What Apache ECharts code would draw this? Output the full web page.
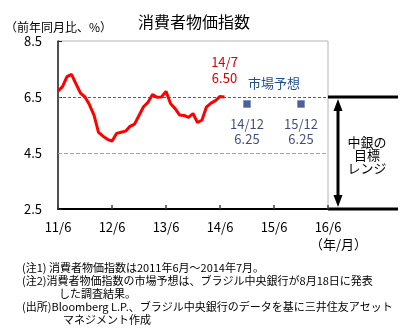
<!DOCTYPE html>
<html><head><meta charset="utf-8">
<script src="https://cdn.jsdelivr.net/npm/echarts@6/dist/echarts.min.js"></script>
<style>html,body{margin:0;padding:0;background:#fff}#c{width:409px;height:332px}</style>
</head><body><div id="c"></div>
<script>
// ---- data ----
const xTickLabels = ['11/6','12/6','13/6','14/6','15/6','16/6'];
const yTickValues = [2.5, 4.5, 6.5, 8.5];
const cpiStartLabel = '11/6';
const cpiLastLabel = '14/7';
const cpiValues = [6.71, 6.87, 7.23, 7.31, 6.97, 6.64, 6.50,
  6.22, 5.85, 5.24, 5.10, 4.99, 4.92, 5.20, 5.24, 5.28, 5.45, 5.53, 5.84,
  6.15, 6.31, 6.59, 6.49, 6.50, 6.70, 6.27, 6.09, 5.86, 5.84, 5.77, 5.91,
  5.59, 5.68, 6.15, 6.28, 6.37, 6.52, 6.50];
const forecastLabels = ['14/12', '15/12'];
const forecastValues = [6.25, 6.25];
const targetRange = [2.5, 6.5];
const gridLineValues = [6.5, 4.5];

const FONT = '"Noto Sans CJK JP", sans-serif';
function monthIndex(label) {
  const p = label.split('/').map(Number);
  const s = cpiStartLabel.split('/').map(Number);
  return (p[0] - s[0]) * 12 + (p[1] - s[1]);
}
const xMin = monthIndex(xTickLabels[0]);
const xMax = monthIndex(xTickLabels[xTickLabels.length - 1]);

const cpiData = cpiValues.map((v, i) => [i, v]);
const lastIdx = cpiValues.length - 1;
const lastVal = cpiValues[lastIdx];
const forecastData = forecastValues.map((v, i) => ({
  value: [monthIndex(forecastLabels[i]), v],
  label: { formatter: forecastLabels[i] + '\n' + v.toFixed(2) }
}));

const chart = echarts.init(document.getElementById('c'), null, { renderer: 'canvas' });
chart.setOption({
  animation: false,
  backgroundColor: '#fff',
  title: {
    text: '消費者物価指数', left: 133, top: 9,
    textStyle: { fontSize: 16, fontWeight: 'normal', color: '#000', fontFamily: FONT }
  },
  grid: { left: 58, top: 41, right: 81, bottom: 123, show: true, borderColor: '#b4b4b4', borderWidth: 1 },
  xAxis: {
    type: 'value', min: xMin, max: xMax, interval: 12,
    axisLine: { lineStyle: { color: '#000', width: 2 } },
    axisTick: { inside: true, length: 4, lineStyle: { color: '#444', width: 1.5 } },
    axisLabel: {
      formatter: v => xTickLabels[(v - xMin) / 12] || '',
      color: '#000', fontSize: 13, margin: 12, fontFamily: FONT
    },
    splitLine: { show: false }
  },
  yAxis: {
    type: 'value', min: yTickValues[0], max: yTickValues[yTickValues.length - 1],
    axisLine: { show: true, lineStyle: { color: '#222', width: 1.5 } },
    axisTick: { show: true, inside: true, length: 4, customValues: yTickValues, lineStyle: { color: '#222' } },
    axisLabel: {
      customValues: yTickValues, formatter: v => v.toFixed(1),
      color: '#000', fontSize: 13, margin: 16, fontFamily: FONT
    },
    splitLine: { show: false }
  },
  series: [
    {
      type: 'line', data: cpiData, showSymbol: false, symbol: 'none',
      lineStyle: { color: '#ff0000', width: 3 }, z: 5,
      markLine: {
        silent: true, symbol: 'none', label: { show: false },
        data: [
          { yAxis: gridLineValues[0], lineStyle: { color: '#55626a', type: [3, 2], width: 1 } },
          { yAxis: gridLineValues[1], lineStyle: { color: '#a79cc2', type: [4, 2], width: 1 } }
        ]
      },
      markPoint: {
        silent: true, symbol: 'circle', symbolSize: 0,
        data: [{ coord: [lastIdx, lastVal], value: lastVal }],
        label: {
          show: true, position: 'top', distance: 11,
          formatter: cpiLastLabel + '\n' + lastVal.toFixed(2),
          color: '#d40000', fontSize: 13, lineHeight: 16, fontFamily: FONT
        }
      }
    },
    {
      type: 'scatter', data: forecastData, symbol: 'rect', symbolSize: 7,
      itemStyle: { color: '#1d3a82', borderColor: '#5a6fa8', borderWidth: 0.5 },
      label: {
        show: true, position: 'bottom', distance: 9,
        color: '#0f1f5a', fontSize: 13, lineHeight: 15, fontFamily: FONT
      },
      z: 6
    }
  ]
});

// ---- decorations positioned from data ----
const pTop = chart.convertToPixel({ gridIndex: 0 }, [xMax, targetRange[1]]);
const pBot = chart.convertToPixel({ gridIndex: 0 }, [xMax, targetRange[0]]);
const f1 = chart.convertToPixel({ gridIndex: 0 }, forecastData[0].value);
const f2 = chart.convertToPixel({ gridIndex: 0 }, forecastData[1].value);
const gx = pTop[0];
const ax = gx + 10;
const ah = 12, aw = 4.5;
const noteStyle = { fill: '#000', fontSize: 11, fontFamily: FONT };
chart.setOption({
  graphic: [
    { type: 'line', shape: { x1: gx, y1: pTop[1], x2: gx + 70, y2: pTop[1] }, style: { stroke: '#000', lineWidth: 3 } },
    { type: 'line', shape: { x1: gx, y1: pBot[1], x2: gx + 70, y2: pBot[1] }, style: { stroke: '#000', lineWidth: 3 } },
    { type: 'line', shape: { x1: ax, y1: pTop[1] + ah, x2: ax, y2: pBot[1] - ah }, style: { stroke: '#000', lineWidth: 3 } },
    { type: 'polygon', shape: { points: [[ax, pTop[1] + 2], [ax - aw, pTop[1] + ah + 2], [ax + aw, pTop[1] + ah + 2]] }, style: { fill: '#000' } },
    { type: 'polygon', shape: { points: [[ax, pBot[1] - 2], [ax - aw, pBot[1] - ah - 2], [ax + aw, pBot[1] - ah - 2]] }, style: { fill: '#000' } },
    { type: 'text', x: gx + 39, y: (pTop[1] + pBot[1]) / 2 + 2,
      style: { text: '中銀の\n目標\nレンジ', fill: '#000', fontSize: 13, lineHeight: 13, align: 'center', verticalAlign: 'middle', fontFamily: FONT } },
    { type: 'text', x: (f1[0] + f2[0]) / 2, y: pTop[1] - 14,
      style: { text: '市場予想', fill: '#1f4e8c', fontSize: 13, align: 'center', verticalAlign: 'middle', fontFamily: FONT } },
    { type: 'text', left: 5, top: 21, style: { text: '（前年同月比、%）', fill: '#000', fontSize: 12, fontFamily: FONT } },
    { type: 'text', left: 310, top: 238, style: { text: '（年/月）', fill: '#000', fontSize: 13, fontFamily: FONT } },
    { type: 'text', left: 22, top: 262, style: Object.assign({ text: '(注1) 消費者物価指数は2011年6月～2014年7月。' }, noteStyle) },
    { type: 'text', left: 22, top: 275, style: Object.assign({ text: '(注2)消費者物価指数の市場予想は、ブラジル中央銀行が8月18日に発表' }, noteStyle) },
    { type: 'text', left: 59, top: 288, style: Object.assign({ text: 'した調査結果。' }, noteStyle) },
    { type: 'text', left: 22, top: 301, style: Object.assign({ text: '(出所)Bloomberg L.P.、ブラジル中央銀行のデータを基に三井住友アセット' }, noteStyle) },
    { type: 'text', left: 63, top: 314, style: Object.assign({ text: 'マネジメント作成' }, noteStyle) }
  ]
});
</script></body></html>
